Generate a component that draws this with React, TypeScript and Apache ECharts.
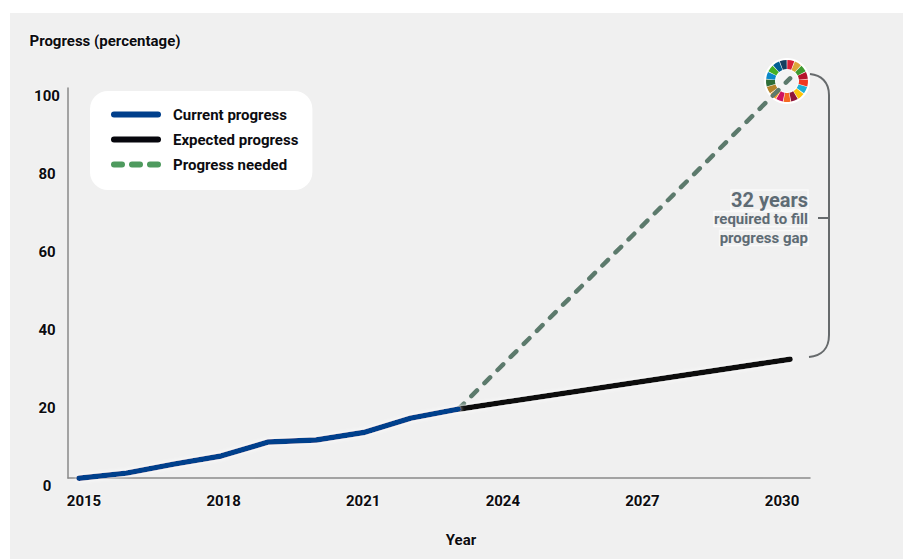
import React, { useEffect, useRef } from "react";
import * as echarts from "echarts";

const currentYears = [2015, 2016, 2017, 2018, 2019, 2020, 2021, 2022, 2023];
const currentValues = [2, 3.3, 5.6, 7.7, 11.3, 11.8, 13.7, 17.4, 19.7];
const expectedYears = [2023, 2030];
const expectedValues = [19.7, 32.5];
const neededYears = [2023, 2030];
const neededValues = [19.7, 104.5];
const yearTicks = [2015, 2018, 2021, 2024, 2027, 2030];
const percentTicks = [0, 20, 40, 60, 80, 100];
const ringColors = [
  "#d81e36", "#dda63a", "#3f9a30", "#b5142a", "#f23a21", "#1fb0d4", "#fcc30b", "#8f1539", "#f56a22",
  "#cf1260", "#fd9d24", "#b5842b", "#2f6e38", "#0a88c9", "#45b022", "#005f93", "#163f60",
];
const seriesNames = ["Current progress", "Expected progress", "Progress needed"];

const INK = "#0c0c10";
const FONT = "Roboto";
const halo = { textBorderColor: "rgba(255,255,255,0.6)", textBorderWidth: 1.5 };
const pairs = (xs: number[], ys: number[]) => xs.map((x, i) => [x, ys[i]]);
const solidIcon = "path://M3 0H47A3 3 0 0 1 47 6H3A3 3 0 0 1 3 0Z";
const dashIcon =
  "path://M3 0H11A3 3 0 0 1 11 6H3A3 3 0 0 1 3 0ZM21 0H29A3 3 0 0 1 29 6H21A3 3 0 0 1 21 0ZM39 0H47A3 3 0 0 1 47 6H39A3 3 0 0 1 39 0Z";

echarts.graphic.registerShape(
  "gapBracket",
  echarts.graphic.extendPath(
    "M810 74 C821 75 829 82 829 95 L829 335 C829 349 821 356 809 357 M818 218 L829 218",
    {},
  ),
);

export default function App() {
  const ref = useRef<HTMLDivElement>(null);
  useEffect(() => {
    document.body.style.margin = "0";
    const chart = echarts.init(ref.current!, undefined, { renderer: "svg" });
    chart.setOption({
      animation: false,
      backgroundColor: "#ffffff",
      textStyle: { fontFamily: FONT },
      grid: [
        { left: 68, width: 742, top: 96, height: 390 },
        { left: 68, width: 742, top: 88, height: 390 },
      ],
      xAxis: [
        { gridIndex: 0, type: "value", min: 2014.768, max: 2030.42, show: false },
        {
          gridIndex: 1,
          type: "value",
          min: 2014.656,
          max: 2030.6,
          splitLine: { show: false },
          axisTick: { show: false },
          axisLine: { lineStyle: { color: "#8a8a8a", width: 1.5 } },
          axisLabel: {
            customValues: yearTicks,
            formatter: (v: number) => String(v),
            margin: 15,
            color: INK,
            fontSize: 15,
            fontWeight: 700,
            fontFamily: FONT,
            ...halo,
          },
          name: "Year",
          nameLocation: "middle",
          nameGap: 54,
          nameTextStyle: { color: INK, fontSize: 15, fontWeight: 700, fontFamily: FONT, padding: [0, 0, 0, 44], ...halo },
        },
      ],
      yAxis: [
        {
          gridIndex: 0,
          type: "value",
          min: 0,
          max: 100,
          splitLine: { show: false },
          axisTick: { show: false },
          axisLine: { show: false },
          axisLabel: {
            customValues: percentTicks,
            align: "center",
            margin: 21,
            color: INK,
            fontSize: 15,
            fontWeight: 700,
            fontFamily: FONT,
            ...halo,
          },
          name: "Progress (percentage)",
          nameLocation: "end",
          nameGap: 48,
          nameTextStyle: { color: INK, fontSize: 15, fontWeight: 700, fontFamily: FONT, padding: [0, 0, 0, 74], ...halo },
        },
        {
          gridIndex: 1,
          type: "value",
          min: 0,
          max: 100,
          splitLine: { show: false },
          axisTick: { show: false },
          axisLabel: { show: false },
          axisLine: { show: true, lineStyle: { color: "#8a8a8a", width: 1.5 } },
        },
      ],
      legend: {
        left: 90,
        top: 91,
        orient: "vertical",
        backgroundColor: "#ffffff",
        borderRadius: 18,
        padding: [16, 14, 18, 21],
        itemWidth: 50,
        itemHeight: 14,
        itemGap: 10,
        textStyle: { color: INK, fontSize: 15, fontWeight: 700, fontFamily: FONT, padding: [0, 0, 0, 7] },
        data: [
          { name: seriesNames[0], icon: solidIcon },
          { name: seriesNames[1], icon: solidIcon },
          { name: seriesNames[2], icon: dashIcon, itemStyle: { color: "#4e9a5e" } },
        ],
      },
      series: [
        {
          type: "pie",
          name: "ring",
          legendHoverLink: false,
          silent: true,
          z: 1,
          center: [787, 81],
          radius: [12, 21],
          startAngle: 90,
          padAngle: 2,
          label: { show: false },
          labelLine: { show: false },
          data: ringColors.map((c, i) => ({ name: "goal " + (i + 1), value: 1, itemStyle: { color: c } })),
        },
        {
          type: "line",
          name: seriesNames[2],
          xAxisIndex: 0,
          yAxisIndex: 0,
          z: 3,
          clip: false,
          showSymbol: false,
          symbol: "none",
          data: pairs(neededYears, neededValues),
          itemStyle: { color: "#5c7a6c" },
          lineStyle: { color: "#5c7a6c", width: 4.5, type: [8, 10.5], cap: "round" },
        },
        {
          type: "line",
          name: seriesNames[1],
          xAxisIndex: 0,
          yAxisIndex: 0,
          z: 4,
          symbol: "none",
          data: pairs(expectedYears, expectedValues),
          itemStyle: { color: "#07070d" },
          lineStyle: { color: "#07070d", width: 5.5, cap: "round", shadowColor: "#ffffff", shadowBlur: 4 },
        },
        {
          type: "line",
          name: seriesNames[0],
          xAxisIndex: 0,
          yAxisIndex: 0,
          z: 5,
          symbol: "none",
          data: pairs(currentYears, currentValues),
          itemStyle: { color: "#003f8c" },
          lineStyle: { color: "#003f8c", width: 5.5, cap: "round", join: "round", shadowColor: "#ffffff", shadowBlur: 4 },
        },
      ],
      graphic: [
        { type: "rect", silent: true, z: -10, shape: { x: 10, y: 13, width: 893, height: 546 }, style: { fill: "#f0f0f0" } },
        { type: "circle", silent: true, z: 0, shape: { cx: 787, cy: 81, r: 23 }, style: { fill: "#ffffff" } },
        { type: "circle", silent: true, z: 0, shape: { cx: 787, cy: 81, r: 11 }, style: { fill: "#f4f4f4" } },
        { type: "gapBracket", silent: true, z: 2, style: { fill: "none", stroke: "#666a6c", lineWidth: 2 } },
        {
          type: "text",
          silent: true,
          z: 6,
          x: 808,
          y: 200,
          style: { text: "32 years", align: "right", verticalAlign: "middle", fill: "#5e6b74", font: `700 20px ${FONT}`, ...halo },
        },
        {
          type: "text",
          silent: true,
          z: 6,
          x: 808,
          y: 219,
          style: { text: "required to fill", align: "right", verticalAlign: "middle", fill: "#5e6b74", font: `700 15px ${FONT}`, ...halo },
        },
        {
          type: "text",
          silent: true,
          z: 6,
          x: 808,
          y: 238,
          style: { text: "progress gap", align: "right", verticalAlign: "middle", fill: "#5e6b74", font: `700 15px ${FONT}`, ...halo },
        },
      ],
    });
    return () => chart.dispose();
  }, []);
  return <div ref={ref} style={{ width: 903, height: 559 }} />;
}
